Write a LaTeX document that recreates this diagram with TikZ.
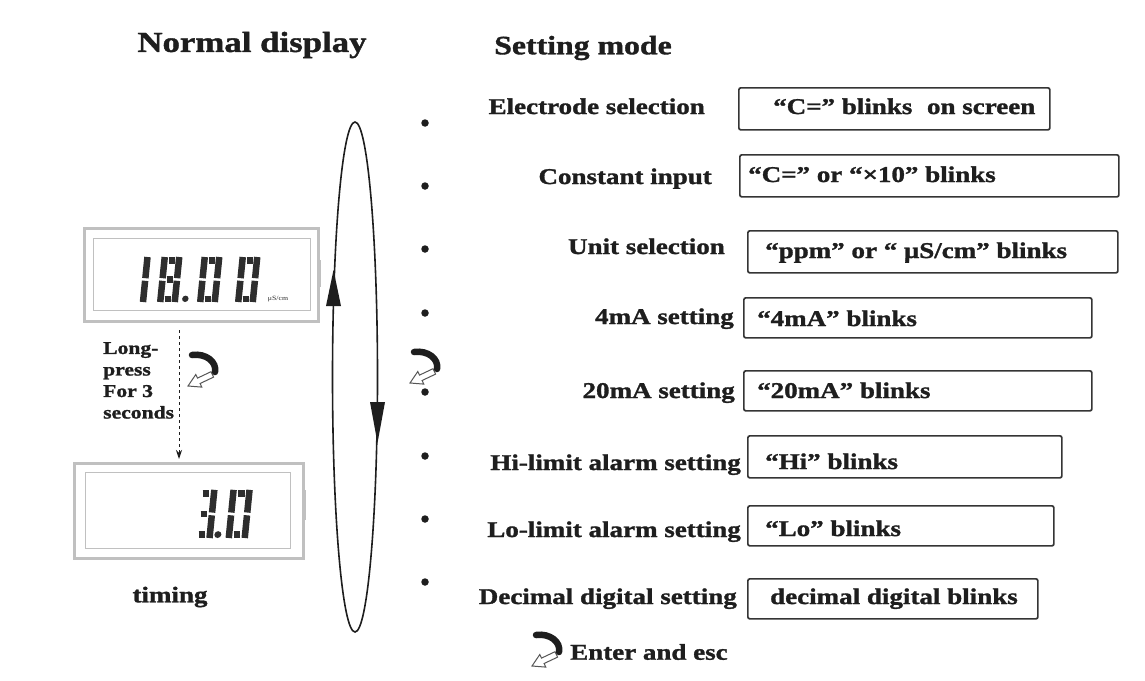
\documentclass[tikz,border=0pt]{standalone}
\usepackage{fontspec}
\setmainfont[FakeStretch=1.2, BoldFeatures={FakeBold=1.3}]{Liberation Serif}
\usetikzlibrary{arrows.meta,shapes.geometric}
\definecolor{lcd}{HTML}{2E2E2E}
\definecolor{lcdframe}{HTML}{C0C0C0}
\definecolor{ink}{HTML}{1E1E1E}
\tikzset{seg/.style={line width=6.5pt, line cap=butt, draw=lcd}}
\newcommand\sgA{\draw[seg] (7.5,41.75)--(13.5,41.75);}
\newcommand\sgB{\draw[seg] (17.75,45)--(17.75,23.8);}
\newcommand\sgC{\draw[seg] (17.75,21.2)--(17.75,0);}
\newcommand\sgD{\draw[seg] (7.5,3.25)--(13.5,3.25);}
\newcommand\sgE{\draw[seg] (3.25,21.2)--(3.25,0);}
\newcommand\sgF{\draw[seg] (3.25,45)--(3.25,23.8);}
\newcommand\sgG{\draw[seg] (7.5,22.5)--(13.5,22.5);}
\newcommand\digOne{\sgB\sgC}
\newcommand\digEight{\sgA\sgB\sgC\sgD\sgE\sgF\sgG}
\newcommand\digZero{\sgA\sgB\sgC\sgD\sgE\sgF}
\newcommand\digThree{\sgA\sgB\sgC\sgD\sgG}
\begin{document}
\begin{tikzpicture}[x=1pt,y=-1pt,
  lbl/.style={font=\fontsize{22.5}{26}\selectfont\bfseries, text=ink, anchor=east, text height=16pt, text depth=4pt, inner sep=0pt},
  boxtxt/.style={font=\fontsize{22.5}{26}\selectfont\bfseries, text=ink, anchor=west, text height=16pt, text depth=4pt, inner sep=0pt},
  blinkbox/.style={draw=ink!90, line width=1.7pt, rounded corners=2pt, anchor=north west, inner sep=0pt},
  dot/.style={circle, fill=ink, inner sep=0pt, minimum size=7.5pt},
  lcdbox/.style={draw=lcdframe, line width=3pt, anchor=north west, inner sep=0pt},
  enterkey/.pic={
    \draw[line width=1pt, fill=white, draw=ink!75] (-15,13) -- (-1.2,14.1) -- (-2.9,10.5) -- (10.6,4.1) -- (8.0,-1.3) -- (-5.5,5.1) -- (-7.2,1.5) -- cycle;
    \draw[line width=6.5pt, line cap=round, ink] (-11,-18) .. controls (3,-20) and (14,-11) .. (12,-1);
  }]
\useasboundingbox (0,0) rectangle (1145,680);
\fill[white] (0,0) rectangle (1145,680);

% titles
\node[font=\fontsize{29}{33}\selectfont\bfseries, text=ink, inner sep=0pt] (tnd) at (252,45) {Normal display};
\node[font=\fontsize{26.5}{30}\selectfont\bfseries, text=ink, inner sep=0pt] (tsm) at (583,48) {Setting mode};

% LCD displays
\node[lcdbox, minimum width=234pt, minimum height=93pt] (lcd1) at (83,227) {};
\draw[lcdframe, line width=1pt] (93,238) rectangle (310,310);
\fill[lcdframe] (317,260) rectangle (321,287);
\begin{scope}[shift={(138,302)}, x=1pt, y=1pt, xslant=0.1]
  \begin{scope}[xshift=-12.75pt]\digOne\end{scope}
  \begin{scope}[xshift=19pt]\digEight\end{scope}
  \fill[lcd] (47,3.2) circle (3.2pt);
  \begin{scope}[xshift=59pt]\digZero\end{scope}
  \begin{scope}[xshift=97pt]\digZero\end{scope}
\end{scope}
\node[font=\fontsize{6.5}{7}\selectfont, text=lcd, inner sep=0pt] (unit) at (278,299) {μS/cm};

\node[lcdbox, minimum width=229pt, minimum height=95pt] (lcd2) at (73,462) {};
\draw[lcdframe, line width=1pt] (85,472) rectangle (290,548);
\fill[lcdframe] (302,490) rectangle (306,520);
\begin{scope}[shift={(190,538)}, x=1pt, y=1pt, xslant=0.1, yscale=1.07, xscale=1.1]
  \digThree
  \fill[lcd] (25,3.2) circle (3.2pt);
  \begin{scope}[xshift=32pt]\digZero\end{scope}
\end{scope}

% long press arrow
\coordinate (dx) at (179,0);
\draw[ink, line width=1pt, dashed, -{Stealth[length=9pt,width=6pt]}, shorten <=7pt, shorten >=3pt]
  (lcd1.south -| dx) -- (lcd2.north -| dx);
\node[font=\fontsize{18}{21.5}\selectfont\bfseries, text=ink, align=left, anchor=north west, inner sep=0pt] (lp) at (103,342) {Long-\\press\\For 3\\seconds};
\pic at (203,373) {enterkey};
\node[font=\fontsize{22.5}{26}\selectfont\bfseries, text=ink, inner sep=0pt] (timing) at (170,597) {timing};

% cycle ellipse
\node[draw=ink, line width=1.6pt, ellipse, inner sep=0pt, minimum width=45pt, minimum height=510pt] (cyc) at (355,377) {};
\fill[ink] (333.5,270) -- (326,306) -- (341,306) -- cycle;
\fill[ink] (377.5,443) -- (370,402) -- (385,402) -- cycle;

% dots
\foreach \i/\y in {1/123,2/186,3/249,4/313,5/392,6/456,7/519,8/582}
  \node[dot] (d\i) at (425,\y) {};
\pic at (425,370) {enterkey};

% labels
\node[lbl] (l1) at (705,108) {Electrode selection};
\node[lbl] (l2) at (712,178) {Constant input};
\node[lbl] (l3) at (725,248) {Unit selection};
\node[lbl] (l4) at (734,318) {4mA setting};
\node[lbl] (l5) at (735,392) {20mA setting};
\node[lbl] (l6) at (741,464) {Hi-limit alarm setting};
\node[lbl] (l7) at (741,531) {Lo-limit alarm setting};
\node[lbl] (l8) at (737,598) {Decimal digital setting};

% boxes
\node[blinkbox, minimum width=311pt, minimum height=42pt] (b1) at (738,87) {};
\node[blinkbox, minimum width=379pt, minimum height=42pt] (b2) at (739,154) {};
\node[blinkbox, minimum width=370pt, minimum height=42pt] (b3) at (747,230) {};
\node[blinkbox, minimum width=348pt, minimum height=40pt] (b4) at (743,297) {};
\node[blinkbox, minimum width=348pt, minimum height=40pt] (b5) at (743,370) {};
\node[blinkbox, minimum width=314pt, minimum height=42pt] (b6) at (747,435) {};
\node[blinkbox, minimum width=306pt, minimum height=40pt] (b7) at (747,505) {};
\node[blinkbox, minimum width=290pt, minimum height=40pt] (b8) at (747,578) {};

\node[boxtxt] (t1) at (773,108) {“C=” blinks\hspace{0.35em} on screen};
\node[boxtxt] (t2) at (748,176) {“C=” or “×10” blinks};
\node[boxtxt] (t3) at (765,252) {“ppm” or “ μS/cm” blinks};
\node[boxtxt] (t4) at (757,320) {“4mA” blinks};
\node[boxtxt] (t5) at (757,392) {“20mA” blinks};
\node[boxtxt] (t6) at (765,463) {“Hi” blinks};
\node[boxtxt] (t7) at (765,530) {“Lo” blinks};
\node[boxtxt] (t8) at (770,598) {decimal digital blinks};

% enter and esc
\pic at (547,653) {enterkey};
\node[font=\fontsize{22.5}{26}\selectfont\bfseries, text=ink, anchor=west, inner sep=0pt] (ee) at (570,652) {Enter and esc};
\end{tikzpicture}
\end{document}
